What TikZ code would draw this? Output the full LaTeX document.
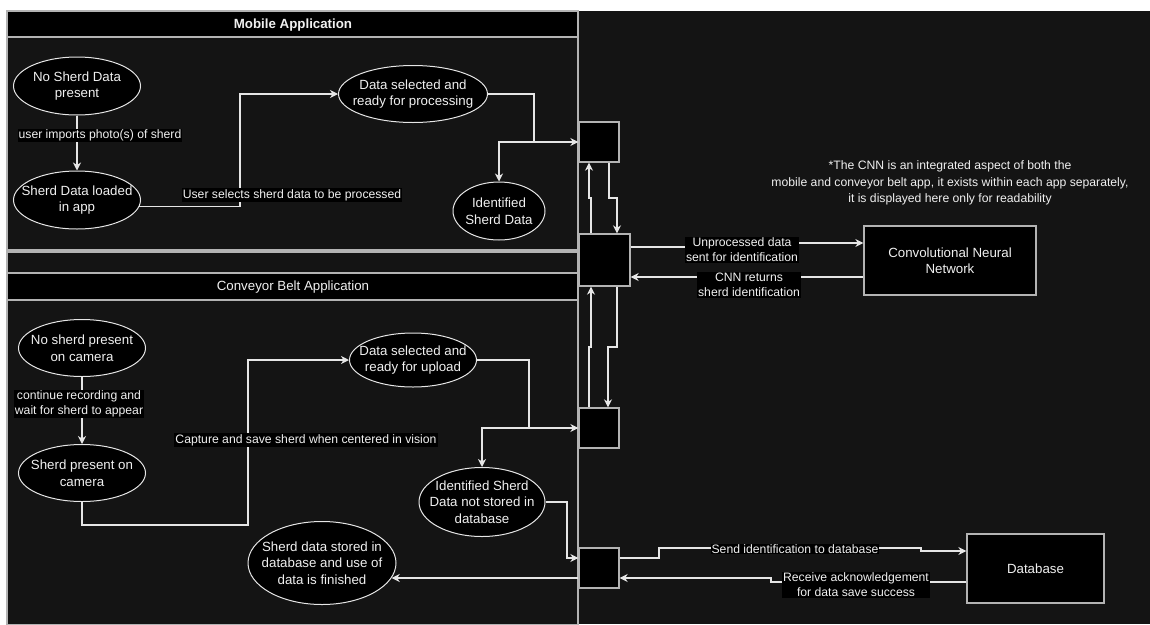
\documentclass[tikz,border=0pt]{standalone}
\usepackage{fontspec}
\setmainfont{Liberation Sans}
\usetikzlibrary{positioning,shapes.geometric,arrows.meta}
\definecolor{bgdark}{HTML}{141414}
\definecolor{lncol}{HTML}{E6E6E6}
\definecolor{bdcol}{HTML}{B3B3B3}
\definecolor{txtcol}{HTML}{F0F0F0}

\begin{document}
\begin{tikzpicture}[x=1pt,y=-1pt,
  enode/.style={draw=lncol,ellipse,fill=black,line width=1pt,inner sep=0pt},
  etext/.style={text=txtcol,align=center,inner sep=0pt,font=\fontsize{13.3}{16.5}\selectfont},
  sbox/.style={draw=bdcol,fill=black,line width=1.3pt,minimum width=40,minimum height=40,inner sep=0pt},
  bbox/.style={draw=bdcol,fill=black,line width=1.3pt,text=txtcol,align=center,inner sep=0pt,font=\fontsize{13.3}{16.5}\selectfont},
  lbl/.style={fill=black,text=txtcol,align=center,inner sep=1pt,font=\fontsize{12.2}{15}\selectfont},
  conn/.style={draw=lncol,line width=1.3pt},
  arr/.style={conn,-{Stealth[length=8pt,width=8pt,inset=2.5pt]}},
  lane/.style={draw=bdcol,line width=1.2pt}
]
\useasboundingbox (0,0) rectangle (1150,624);
\fill[white] (0,0) rectangle (1150,624);
\fill[bgdark] (7,11) rectangle (1150,624);

% lanes
\draw[lane,fill=bgdark] (7,37) rectangle (578,250);
\draw[lane,fill=black] (7,11) rectangle (578,37);
\node[text=txtcol,font=\bfseries\fontsize{13.3}{16}\selectfont] (tmob) at (293,25) {Mobile Application};
\draw[lane] (7,252) rectangle (578,273);
\draw[lane,fill=bgdark] (7,300) rectangle (578,625);
\draw[lane,fill=black] (7,273) rectangle (578,300);
\node[text=txtcol,font=\fontsize{13.3}{16}\selectfont] (tconv) at (293,287) {Conveyor Belt Application};

% mobile application
\node[enode,minimum width=127,minimum height=58,label={[etext]center:No Sherd Data\\present}] (nodata) at (77,86) {};
\node[enode,minimum width=127,minimum height=58,label={[etext]center:Sherd Data loaded\\in app}] (loaded) at (77,200) {};
\node[enode,minimum width=149,minimum height=57,label={[etext]center:Data selected and\\ready for processing}] (selm) at (413,94) {};
\node[enode,minimum width=92,minimum height=58,label={[etext]center:Identified\\Sherd Data}] (idm) at (499,211) {};

% conveyor belt application
\node[enode,minimum width=127,minimum height=57,label={[etext]center:No sherd present\\on camera}] (nosh) at (82,348) {};
\node[enode,minimum width=127,minimum height=57,label={[etext]center:Sherd present on\\camera}] (shpres) at (82,473) {};
\node[enode,minimum width=127,minimum height=54,label={[etext]center:Data selected and\\ready for upload}] (upl) at (413,360) {};
\node[enode,minimum width=126,minimum height=69,label={[etext]center:Identified Sherd\\Data not stored in\\database}] (idc) at (482,502) {};
\node[enode,minimum width=148,minimum height=83,label={[etext]center:Sherd data stored in\\database and use of\\data is finished}] (stored) at (322,563) {};

% hubs and services
\node[sbox] (B1) at (599,142) {};
\node[sbox,minimum width=51,minimum height=52] (B2) at (604.5,260) {};
\node[sbox] (B3) at (599,428) {};
\node[sbox] (B4) at (599,568) {};
\node[bbox,minimum width=172,minimum height=69] (CNN) at (950,260.5) {Convolutional Neural\\Network};
\node[bbox,minimum width=137,minimum height=69] (DB) at (1035.5,568.5) {Database};
\node[text=txtcol,align=center,font=\fontsize{12.2}{16.5}\selectfont] (note) at (950,183) {*The CNN is an integrated aspect of both the\\mobile and conveyor belt app, it exists within each app separately,\\it is displayed here only for readability};

% mobile connectors
\draw[arr] (nodata) -- node[lbl,pos=0.36,xshift=23pt] {user imports photo(s) of sherd} (loaded);
\draw[arr] (loaded.-6) -| (240,94) -- (selm.west);
\node[lbl] (lsel) at (292,195) {User selects sherd data to be processed};
\draw[arr] (selm.east) -| (534,142) coordinate (jm) -- (B1.west);
\draw[arr] (jm) -| (idm.north);

% hub connectors
\draw[arr] ([xshift=-13.5pt]B2.north) |- (589,198) -- ([xshift=-10pt]B1.south);
\draw[arr] ([xshift=10pt]B1.south) |- (617,198) -- ([xshift=12.5pt]B2.north);
\draw[arr] ([xshift=-10pt]B3.north) |- (591,347) -- ([xshift=-13.5pt]B2.south);
\draw[arr] ([xshift=12.5pt]B2.south) |- (608,347) -- ([xshift=9pt]B3.north);
\draw[arr] ([yshift=13pt]B2.east) -- ++(112,0) |- ([yshift=17.5pt]CNN.west);
\node[lbl] (lunp) at (742,250) {Unprocessed data\\sent for identification};
\draw[arr] ([yshift=-16.5pt]CNN.west) -- ([yshift=-16.5pt]CNN.west -| B2.east);
\node[lbl] (lret) at (749,285) {CNN returns\\sherd identification};

% conveyor connectors
\draw[arr] (nosh) -- node[lbl,pos=0.4,xshift=-3pt] {continue recording and\\wait for sherd to appear} (shpres);
\draw[arr] (shpres.south) |- (248,525) |- (upl.west);
\node[lbl] (lcap) at (306,440) {Capture and save sherd when centered in vision};
\draw[arr] (upl.east) -| (529,428) coordinate (jc) -- (B3.west);
\draw[arr] (jc) -| (idc.north);
\draw[arr] (idc.east) -| (567,558) -- ([yshift=10pt]B4.west);
\draw[arr] ([yshift=-10pt]B4.west) -- ([yshift=-10pt]B4.west -| stored.-12);
\draw[arr] ([yshift=10pt]B4.east) -| (659,548) -| (921,551) -- ([yshift=17.5pt]DB.west);
\node[lbl] (lsend) at (795,549) {Send identification to database};
\draw[arr] ([yshift=-13.5pt]DB.west) -| (771,578) -- ([yshift=-10pt]B4.east);
\node[lbl] (lrecv) at (856,585) {Receive acknowledgement\\for data save success};
\end{tikzpicture}
\end{document}
